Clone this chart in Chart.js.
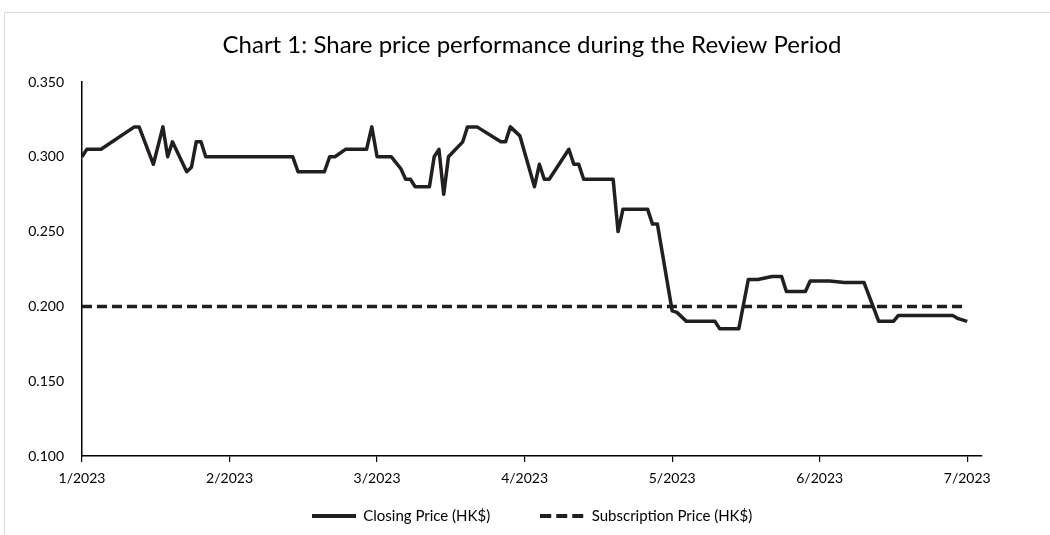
<!DOCTYPE html>
<html>
<head>
<meta charset="utf-8">
<script src="https://cdn.jsdelivr.net/npm/chart.js@4.4.0/dist/chart.umd.min.js"></script>
<style>
  html, body { margin: 0; padding: 0; background: #fff; overflow: hidden; }
  #frame { position: absolute; left: 4px; top: 12px; width: 1100px; height: 600px;
           border-top: 1px solid #d9d9d9; border-left: 1px solid #d9d9d9; }
  #wrap { position: absolute; left: 0; top: 0; width: 1050px; height: 535px; }
</style>
</head>
<body>
<div id="frame"></div>
<div id="wrap"><canvas id="myChart" width="1050" height="535"></canvas></div>
<script>
// closing price
const dates = [
  '2023-01-01','2023-01-02','2023-01-05','2023-01-12','2023-01-13','2023-01-16','2023-01-18',
  '2023-01-19','2023-01-20','2023-01-23','2023-01-24','2023-01-25','2023-01-26','2023-01-27',
  '2023-02-13','2023-02-14','2023-02-19','2023-02-20','2023-02-21','2023-02-23','2023-02-27',
  '2023-02-28','2023-03-01','2023-03-04','2023-03-06','2023-03-07','2023-03-08','2023-03-09',
  '2023-03-12','2023-03-13','2023-03-14','2023-03-15','2023-03-16','2023-03-19','2023-03-20',
  '2023-03-22','2023-03-27','2023-03-28','2023-03-29','2023-03-31','2023-04-03','2023-04-04',
  '2023-04-05','2023-04-06','2023-04-10','2023-04-11','2023-04-12','2023-04-13','2023-04-19',
  '2023-04-20','2023-04-21','2023-04-26','2023-04-27','2023-04-28','2023-05-01','2023-05-02',
  '2023-05-04','2023-05-10','2023-05-11','2023-05-15','2023-05-17','2023-05-19','2023-05-22',
  '2023-05-24','2023-05-25','2023-05-29','2023-05-30','2023-06-03','2023-06-06','2023-06-10',
  '2023-06-13','2023-06-16','2023-06-17','2023-06-28','2023-06-29','2023-06-30','2023-07-01'
];
const closingPrice = [
  0.300,0.305,0.305,0.320,0.320,0.295,0.320,
  0.300,0.310,0.290,0.293,0.310,0.310,0.300,
  0.300,0.290,0.290,0.300,0.300,0.305,0.305,
  0.320,0.300,0.300,0.292,0.285,0.285,0.280,
  0.280,0.300,0.305,0.275,0.300,0.310,0.320,
  0.320,0.310,0.310,0.320,0.314,0.280,0.295,
  0.285,0.285,0.305,0.295,0.295,0.285,0.285,
  0.250,0.265,0.265,0.255,0.255,0.197,0.196,
  0.190,0.190,0.185,0.185,0.218,0.218,0.220,
  0.220,0.210,0.210,0.217,0.217,0.216,0.216,
  0.190,0.190,0.194,0.194,0.192,0.191,0.190
];
const subscriptionDates = ['2023-01-01', '2023-06-30'];
const subscriptionPrice = [0.200, 0.200];
const monthLabels = ['1/2023','2/2023','3/2023','4/2023','5/2023','6/2023','7/2023'];
const yMin = 0.100, yMax = 0.350, yStep = 0.050;

// months on the axis are evenly spaced, so place each day as a fraction of its month
function monthPos(s) {
  const [y, m, d] = s.split('-').map(Number);
  const dim = new Date(y, m, 0).getDate();
  return (m - 1) + (d - 1) / dim;
}

// little line samples for the legend (pointStyle 'line' ignores the dash)
function legendSample(dashed) {
  const c = document.createElement('canvas');
  c.width = 44; c.height = 6;
  const g = c.getContext('2d');
  g.fillStyle = '#231f20';
  if (dashed) {
    [0, 16, 32].forEach(x => g.fillRect(x, 1, 11, 4));
  } else {
    g.fillRect(0, 1, 44, 4);
  }
  return c;
}

const font = 'Lato';
const ctx = document.getElementById('myChart').getContext('2d');
const chart = new Chart(ctx, {
  type: 'line',
  data: {
    datasets: [
      {
        label: 'Closing Price (HK$)',
        data: dates.map((d, i) => ({x: monthPos(d), y: closingPrice[i]})),
        borderColor: '#231f20',
        backgroundColor: '#231f20',
        borderWidth: 3.5,
        borderJoinStyle: 'round',
        pointRadius: 0,
        pointStyle: legendSample(false),
        tension: 0
      },
      {
        label: 'Subscription Price (HK$)',
        data: subscriptionDates.map((d, i) => ({x: monthPos(d), y: subscriptionPrice[i]})),
        borderColor: '#231f20',
        backgroundColor: '#231f20',
        borderWidth: 3.5,
        borderDash: [10, 5],
        pointRadius: 0,
        pointStyle: legendSample(true),
        tension: 0
      }
    ]
  },
  options: {
    responsive: false,
    animation: false,
    layout: {padding: {left: 14, right: 0, top: 0, bottom: 1.5}},
    plugins: {
      title: {
        display: true,
        text: 'Chart 1: Share price performance during the Review Period',
        color: '#000',
        font: {family: font, size: 24, weight: 'normal'},
        padding: {top: 31, bottom: 22.2}
      },
      legend: {
        position: 'bottom',
        labels: {
          usePointStyle: true,
          pointStyleWidth: 44,
          color: '#000',
          padding: 20,
          font: {family: font, size: 15},
          // a little extra room after the first entry, as in the original
          generateLabels: c => Chart.defaults.plugins.legend.labels.generateLabels(c)
            .map((l, i) => i === 0 ? Object.assign(l, {text: l.text + '\u2002\u2002\u2002\u2002'}) : l)
        }
      },
      tooltip: {enabled: false}
    },
    scales: {
      x: {
        type: 'linear',
        min: 0,
        max: 6.1,
        afterFit: s => { s.height = 32.5; },
        afterBuildTicks: s => { s.ticks = monthLabels.map((l, i) => ({value: i})); },
        ticks: {
          color: '#000',
          padding: 8,
          maxRotation: 0,
          font: {family: font, size: 14},
          callback: v => monthLabels[v]
        },
        grid: {display: true, drawOnChartArea: false, drawTicks: true, tickLength: 6, color: '#000', lineWidth: 1.2},
        border: {display: true, color: '#000', width: 1.5}
      },
      y: {
        min: yMin,
        max: yMax,
        afterFit: s => { s.width = 68; },
        ticks: {
          stepSize: yStep,
          color: '#000',
          padding: 10,
          font: {family: font, size: 14},
          callback: v => v.toFixed(3)
        },
        grid: {display: false},
        border: {display: true, color: '#000', width: 1.5}
      },
      // empty right-hand space so the plot ends where the reference does
      yRight: {
        position: 'right',
        afterFit: s => { s.width = 68; },
        ticks: {display: false},
        grid: {display: false},
        border: {display: false}
      }
    }
  }
});
</script>
</body>
</html>
